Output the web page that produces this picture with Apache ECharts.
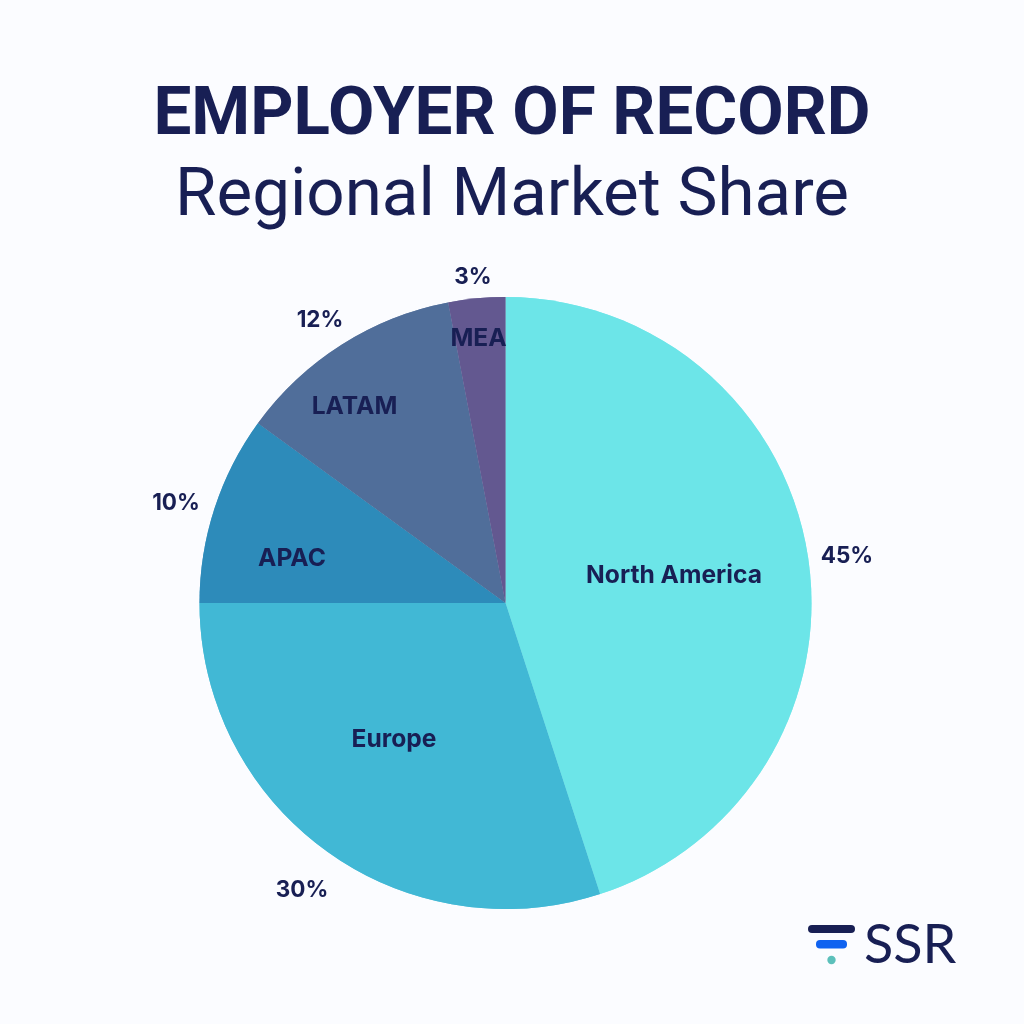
<!DOCTYPE html>
<html lang="en">
<head>
    <meta charset="utf-8">
    <title>Employer of Record</title>
    <script src="https://cdn.jsdelivr.net/npm/echarts@6/dist/echarts.min.js"></script>
    <style>
        html, body { margin: 0; padding: 0; background: #fbfcff; }
        #main { width: 1024px; height: 1024px; }
    </style>
</head>
<body>
<div id="main"></div>
<script type="text/javascript">
    var regions = ['North America', 'Europe', 'APAC', 'LATAM', 'MEA'];
    var shares = [45, 30, 10, 12, 3];
    var sliceColors = ['#6ce5e8', '#41b8d5', '#2d8bba', '#506e9a', '#635890'];

    var ink = '#181f54';
    var pieData = regions.map(function (name, i) {
        return { name: name, value: shares[i], itemStyle: { color: sliceColors[i] } };
    });

    // label spots as placed in the reference
    var namePos = [[674, 576], [394, 740], [292, 559], [354.5, 407], [478.5, 339]];
    var pctPos = [[847, 556], [302, 890], [176, 503], [320, 320], [473, 277]];

    function placeAt(list) {
        return function (params) {
            var p = list[params.dataIndex];
            return { x: p[0], y: p[1], align: 'center', verticalAlign: 'middle' };
        };
    }

    var myChart = echarts.init(document.getElementById('main'));

    myChart.setOption({
        backgroundColor: '#fbfcff',
        animation: false,
        title: [{
            text: 'EMPLOYER OF RECORD',
            left: 507,
            top: 79,
            textAlign: 'center',
            textStyle: { fontFamily: 'Roboto', fontSize: 67.3, fontWeight: 700, color: ink }
        }, {
            text: 'Regional Market Share',
            left: 507,
            top: 160,
            textAlign: 'center',
            textStyle: { fontFamily: 'Roboto', fontSize: 67.3, fontWeight: 400, color: ink }
        }],
        series: [{
            type: 'pie',
            center: [505.5, 603],
            radius: [0, 306],
            startAngle: 90,
            clockwise: true,
            silent: true,
            data: pieData,
            itemStyle: { borderColor: 'rgba(255,255,255,0.35)', borderWidth: 0.6 },
            label: {
                show: true,
                position: 'inside',
                formatter: '{b}',
                fontFamily: 'Inter',
                fontSize: 24.6,
                fontWeight: 700,
                color: ink
            },
            labelLine: { show: false },
            labelLayout: placeAt(namePos)
        }, {
            type: 'pie',
            center: [505.5, 603],
            radius: [0, 306],
            startAngle: 90,
            clockwise: true,
            silent: true,
            data: pieData,
            itemStyle: { color: 'transparent', borderWidth: 0 },
            label: {
                show: true,
                position: 'inside',
                formatter: '{c}%',
                fontFamily: 'Inter',
                fontSize: 22.5,
                fontWeight: 700,
                color: ink
            },
            labelLine: { show: false },
            labelLayout: placeAt(pctPos)
        }],
        graphic: [
            { type: 'rect', shape: { x: 808, y: 925, width: 47, height: 8, r: 4 }, style: { fill: ink } },
            { type: 'rect', shape: { x: 816, y: 940, width: 31, height: 8.5, r: 4 }, style: { fill: '#0f62f0' } },
            { type: 'circle', shape: { cx: 831.5, cy: 960, r: 4.2 }, style: { fill: '#5cc0bb' } },
            {
                type: 'text',
                style: {
                    x: 864, y: 946, text: 'SSR', fill: ink,
                    font: '400 54px Lato', textVerticalAlign: 'middle'
                }
            }
        ]
    });
</script>
</body>
</html>
